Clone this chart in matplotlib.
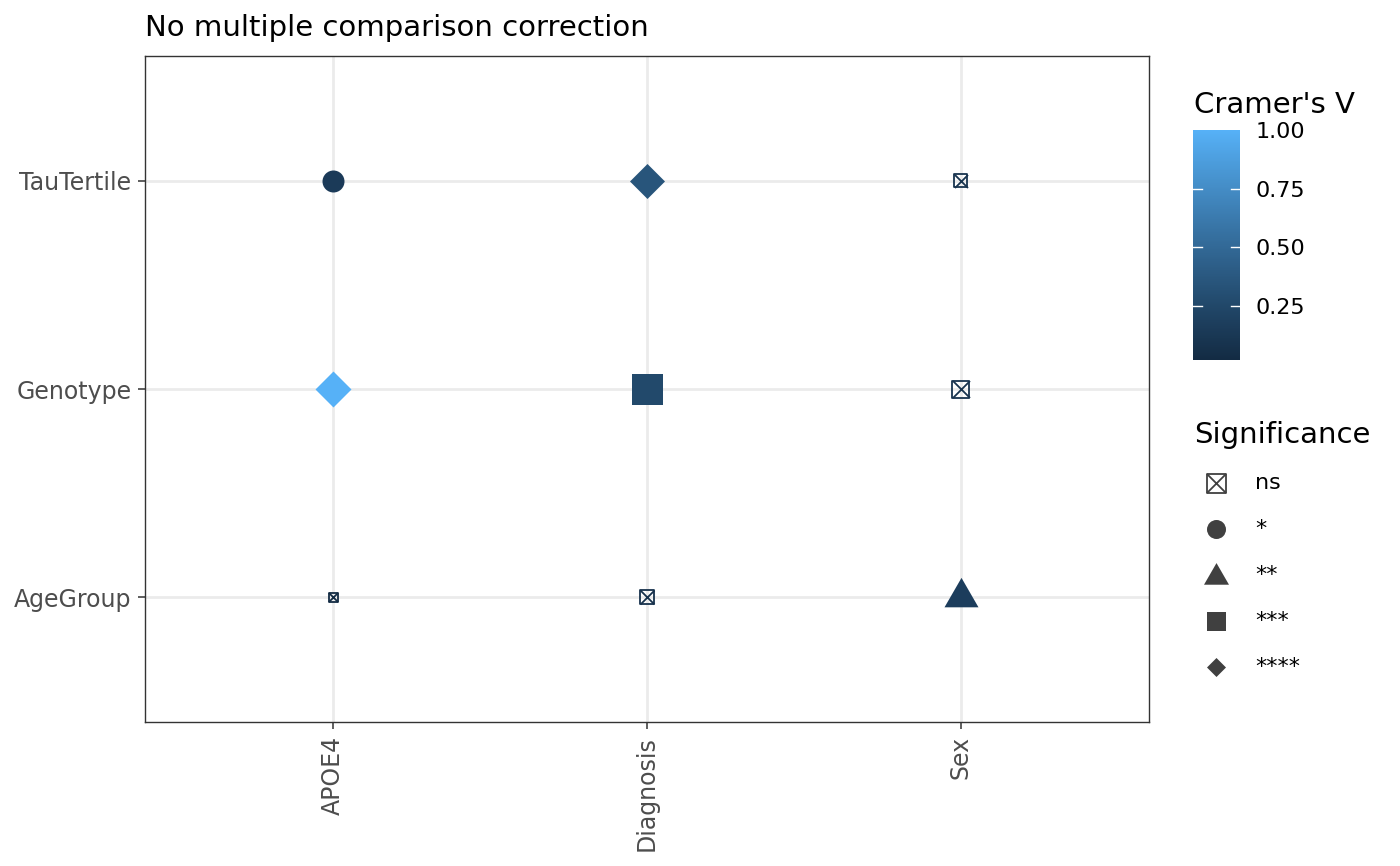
import numpy as np
import matplotlib
matplotlib.use("Agg")
import matplotlib.pyplot as plt
from matplotlib.colors import ListedColormap, Normalize
from matplotlib.path import Path
from matplotlib.cm import ScalarMappable

# ---------------- data ----------------
x_vars = ["APOE4", "Diagnosis", "Sex"]
y_vars = ["AgeGroup", "Genotype", "TauTertile"]

pair_x = ["APOE4", "Diagnosis", "Sex",
          "APOE4", "Diagnosis", "Sex",
          "APOE4", "Diagnosis", "Sex"]
pair_y = ["TauTertile", "TauTertile", "TauTertile",
          "Genotype", "Genotype", "Genotype",
          "AgeGroup", "AgeGroup", "AgeGroup"]
cramers_v = [0.15, 0.35, 0.10,
             1.00, 0.26, 0.10,
             0.02, 0.08, 0.17]
significance = ["*", "****", "ns",
                "****", "***", "ns",
                "ns", "ns", "**"]
# point size aesthetic (marker extent, px)
point_size = [22, 35, 13,
              36, 31, 17,
              9, 14, 34]

sig_levels = ["ns", "*", "**", "***", "****"]
cb_ticks = [0.25, 0.50, 0.75, 1.00]

# ---------------- colour scale (ggplot2 default gradient, Lab interpolation) ----------------
def hex2rgb(h):
    h = h.lstrip("#")
    return np.array([int(h[i:i + 2], 16) / 255 for i in (0, 2, 4)])

M = np.array([[0.4124564, 0.3575761, 0.1804375],
              [0.2126729, 0.7151522, 0.0721750],
              [0.0193339, 0.1191920, 0.9503041]])
WHITE = np.array([0.95047, 1.0, 1.08883])

def rgb2lab(c):
    lin = np.where(c <= 0.04045, c / 12.92, ((c + 0.055) / 1.055) ** 2.4)
    xyz = M @ lin / WHITE
    d = 6 / 29
    f = np.where(xyz > d ** 3, np.cbrt(xyz), xyz / (3 * d * d) + 4 / 29)
    return np.array([116 * f[1] - 16, 500 * (f[0] - f[1]), 200 * (f[1] - f[2])])

def lab2rgb(lab):
    L, a, b = lab
    fy = (L + 16) / 116
    fx = fy + a / 500
    fz = fy - b / 200
    d = 6 / 29
    f = np.array([fx, fy, fz])
    xyz = np.where(f > d, f ** 3, 3 * d * d * (f - 4 / 29)) * WHITE
    lin = np.linalg.solve(M, xyz)
    lin = np.clip(lin, 0, 1)
    c = np.where(lin <= 0.0031308, 12.92 * lin, 1.055 * lin ** (1 / 2.4) - 0.055)
    return np.clip(c, 0, 1)

lo, hi = rgb2lab(hex2rgb("#132B43")), rgb2lab(hex2rgb("#56B1F7"))
cmap = ListedColormap([lab2rgb(lo + (hi - lo) * t) for t in np.linspace(0, 1, 256)])
norm = Normalize(vmin=min(cramers_v), vmax=max(cramers_v))

# ---------------- marker shapes ----------------
tri_h = np.sqrt(3) / 2
TRI = Path([(0, 2 * tri_h / 3), (-0.5, -tri_h / 3), (0.5, -tri_h / 3), (0, 2 * tri_h / 3)],
           [Path.MOVETO, Path.LINETO, Path.LINETO, Path.CLOSEPOLY])
DIA = Path([(0, 1), (1, 0), (0, -1), (-1, 0), (0, 1)],
           [Path.MOVETO, Path.LINETO, Path.LINETO, Path.LINETO, Path.CLOSEPOLY])
PX2PT = 72 / 100

def draw_marker(axis, x, y, sig, extent_px, color, lw=1.3, z=3):
    if sig == "ns":
        ms = extent_px * PX2PT
        axis.scatter([x], [y], s=ms ** 2, marker="s", facecolors="none",
                     edgecolors=[color], linewidths=lw, zorder=z)
        axis.scatter([x], [y], s=ms ** 2, marker="x", c=[color],
                     linewidths=lw, zorder=z)
    elif sig == "*":
        ms = extent_px * PX2PT
        axis.scatter([x], [y], s=ms ** 2, marker="o", c=[color], linewidths=0, zorder=z)
    elif sig == "**":
        ms = extent_px / 0.866 * PX2PT
        axis.scatter([x], [y], s=ms ** 2, marker=TRI, c=[color], linewidths=0, zorder=z)
    elif sig == "***":
        ms = extent_px * PX2PT
        axis.scatter([x], [y], s=ms ** 2, marker="s", c=[color], linewidths=0, zorder=z)
    else:
        ms = extent_px * PX2PT
        axis.scatter([x], [y], s=ms ** 2, marker=DIA, c=[color], linewidths=0, zorder=z)

# ---------------- figure ----------------
plt.rcParams["font.family"] = ["DejaVu Sans"]
W, H = 1400, 866
fig = plt.figure(figsize=(W / 100, H / 100), dpi=100)

def fbox(x0, y0, x1, y1):
    return [x0 / W, 1 - y1 / H, (x1 - x0) / W, (y1 - y0) / H]

ax = fig.add_axes(fbox(145, 56, 1149, 722))
ax.set_xlim(0.4, len(x_vars) + 0.6)
ax.set_ylim(0.4, len(y_vars) + 0.6)
ax.set_xticks(range(1, len(x_vars) + 1))
ax.set_xticklabels(x_vars, rotation=90)
ax.set_yticks(range(1, len(y_vars) + 1))
ax.set_yticklabels(y_vars)
for v in range(1, len(x_vars) + 1):
    ax.axvline(v, color="#EBEBEB", lw=2.0, zorder=1)
for v in range(1, len(y_vars) + 1):
    ax.axhline(v, color="#EBEBEB", lw=2.0, zorder=1)
for s in ax.spines.values():
    s.set_color("#333333")
    s.set_linewidth(1.0)
    s.set_zorder(5)
ax.tick_params(length=5, width=1.1, color="#333333", labelcolor="#4D4D4D",
               labelsize=17, pad=4.8)
ax.tick_params(axis="x", pad=5.2)

for xv, yv, v, sig, sz in zip(pair_x, pair_y, cramers_v, significance, point_size):
    xi = x_vars.index(xv) + 1
    yi = y_vars.index(yv) + 1
    draw_marker(ax, xi, yi, sig, sz, cmap(norm(v)))

fig.text(145 / W, 1 - 36 / H, "No multiple comparison correction",
         fontsize=21, color="black", ha="left", va="baseline")

# ---------------- colour bar ----------------
cax = fig.add_axes(fbox(1193, 130, 1240, 360))
sm = ScalarMappable(norm=norm, cmap=cmap)
cb = fig.colorbar(sm, cax=cax, ticks=cb_ticks)
cb.outline.set_visible(False)
cb.ax.set_yticklabels([f"{t:.2f}" for t in cb_ticks])
cb.ax.tick_params(length=0, labelsize=16, pad=11, labelcolor="black")
for t in cb_ticks[:-1]:
    cax.plot([0, 0.2], [t, t], color="white", lw=1.0, transform=cax.get_yaxis_transform())
    cax.plot([0.8, 1.0], [t, t], color="white", lw=1.0, transform=cax.get_yaxis_transform())
fig.text(1194 / W, 1 - 113 / H, "Cramer's V", fontsize=21, ha="left", va="baseline")

# ---------------- shape legend ----------------
lax = fig.add_axes([0, 0, 1, 1], zorder=10)
lax.set_xlim(0, W)
lax.set_ylim(H, 0)
lax.axis("off")
fig.text(1194 / W, 1 - 443 / H, "Significance", fontsize=21, ha="left", va="baseline")
key_size = {"ns": 19, "*": 19, "**": 25, "***": 19, "****": 19}
for i, lev in enumerate(sig_levels):
    yk = 483 + i * 46
    yoff = 2 if lev == "**" else 0
    draw_marker(lax, 1216, yk + yoff, lev, key_size[lev], "#404040", lw=1.3)
    lax.text(1255, yk, lev, fontsize=16, ha="left", va="center", color="black")

fig.savefig("out.png", dpi=100)
